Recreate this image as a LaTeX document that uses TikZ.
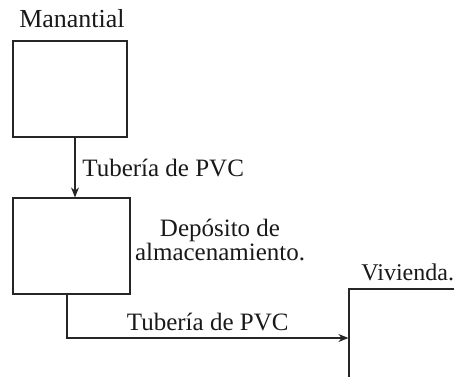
\documentclass[tikz,border=0pt]{standalone}
\usepackage{fontspec}
\setmainfont{Liberation Serif}
\usetikzlibrary{arrows.meta,positioning}

\begin{document}
\begin{tikzpicture}[x=0.5pt,y=-0.5pt,
    caja/.style={draw=black!85, line width=0.6pt, minimum width=57pt, minimum height=48pt},
    etiqueta/.style={font=\fontsize{12.5}{12}\selectfont, text=black!90},
    tubo/.style={draw=black!85, line width=0.7pt, -{Stealth[length=5pt,width=4pt]}}]
    % Marco de la imagen
    \clip (0,0) rectangle (454,376);
    % Cajas
    \node[caja] (man) at (70,89) {};
    \node[caja, minimum width=58.5pt] (dep) at (71.5,246) {};
    \node[caja, minimum width=65pt, minimum height=49pt] (viv) at (414,338) {};
    % Nombres
    \node[etiqueta, above=3pt of man, xshift=1pt, font=\fontsize{13}{13}\selectfont] (lman) {Manantial};
    \node[etiqueta, align=center, anchor=west, inner sep=2pt]
      (ldep) at ([yshift=3pt]dep.east) {Depósito de\\almacenamiento.};
    \node[etiqueta, anchor=south west, font=\fontsize{12}{12}\selectfont] (lviv) at ([xshift=3pt]viv.north west) {Vivienda.};
    % Tuberias
    \draw[tubo] ([xshift=2.5pt]man.south) -- ([xshift=1.75pt]dep.north)
      node[etiqueta, right, pos=0.5] (t1) {Tubería de PVC};
    \draw[tubo] ([xshift=-2.25pt]dep.south) |- (viv.west)
      node[etiqueta, above, pos=0.75] (t2) {Tubería de PVC};
\end{tikzpicture}
\end{document}
